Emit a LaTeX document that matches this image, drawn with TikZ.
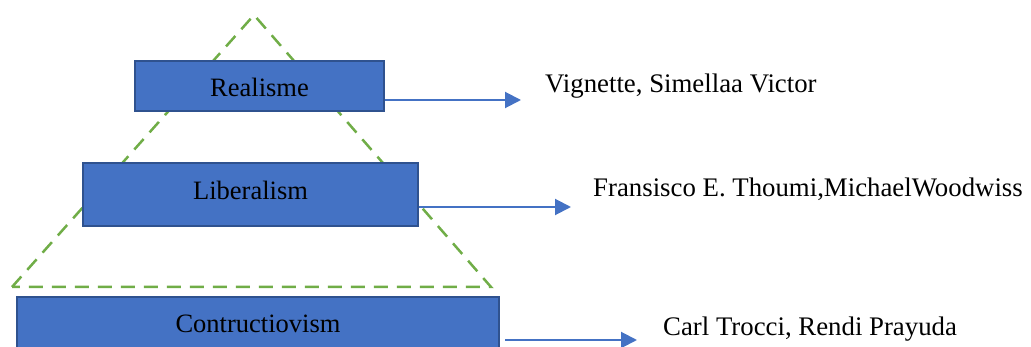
\documentclass[tikz,border=0pt]{standalone}
\usepackage{fontspec}
\setmainfont{Liberation Serif}
\usetikzlibrary{arrows.meta}
\definecolor{boxfill}{HTML}{4472C4}
\definecolor{boxline}{HTML}{2F528F}
\definecolor{tri}{HTML}{70AD47}
\tikzset{
  levelbox/.style={draw=boxline, fill=boxfill, line width=2pt, inner sep=0pt,
    font=\fontsize{26.5}{30}\selectfont, text=black, text depth=0pt},
  lbl/.style={anchor=west, inner sep=0pt, font=\fontsize{26.8}{30}\selectfont},
  conn/.style={draw=boxfill, line width=2pt, -{Triangle[length=16pt,width=16pt]}},
  tridash/.style={draw=tri, line width=2.5pt, dash pattern=on 14pt off 9pt}
}
\begin{document}
\begin{tikzpicture}[x=1pt,y=-1pt]
\useasboundingbox (0,0) rectangle (1031,347);
\clip (0,0) rectangle (1031,347);
\coordinate (apex) at (254,15);
\coordinate (bl) at (12,287);
\coordinate (br) at (491,287);
\draw[tridash] (bl) -- (apex) -- (br) -- cycle;
\node[levelbox, minimum width=249pt, minimum height=50pt, text height=22pt] (real) at (259.5,86) {Realisme};
\node[levelbox, minimum width=335pt, minimum height=63pt, text height=11pt] (lib) at (250.5,194.5) {Liberalism};
\node[levelbox, minimum width=482pt, minimum height=60pt, text height=12pt] (con) at (258,327) {Contructiovism};
\node[lbl] (t1) at (545,86) {Vignette, Simellaa Victor};
\node[lbl] (t2) at (593,189) {Fransisco E. Thoumi,MichaelWoodwiss};
\node[lbl] (t3) at (663,329) {Carl Trocci, Rendi Prayuda};
\coordinate (e1) at (521,100);
\coordinate (e2) at (571,207);
\coordinate (e3) at (637,340);
\draw[conn] (real.east |- e1) -- (e1);
\draw[conn] (lib.east |- e2) -- (e2);
\draw[conn] ([xshift=5pt]con.east |- e3) -- (e3);
\end{tikzpicture}
\end{document}
